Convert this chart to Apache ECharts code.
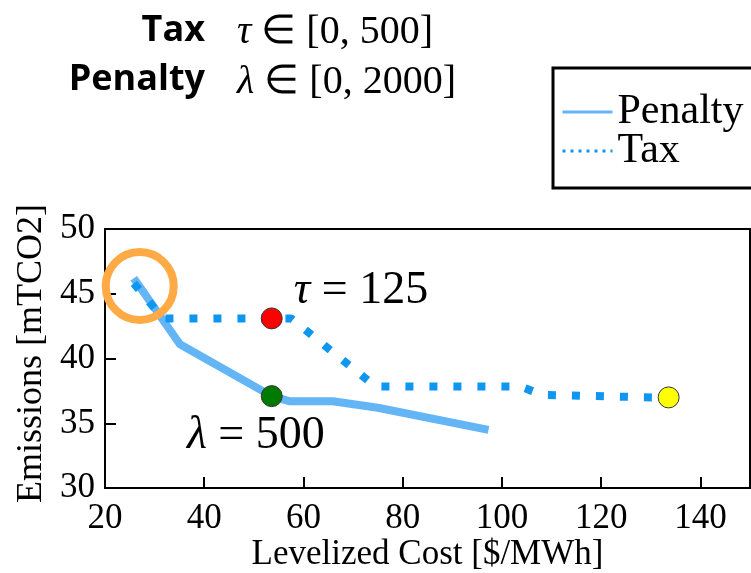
<!DOCTYPE html>
<html>
<head>
<meta charset="utf-8">
<script src="https://cdn.jsdelivr.net/npm/echarts@6/dist/echarts.min.js"></script>
<style>
  html, body { margin: 0; padding: 0; background: #fff; }
  #chart { width: 751px; height: 573px; }
</style>
</head>
<body>
<div id="chart"></div>
<script>
// levelized cost [$/MWh] vs emissions [mTCO2]
var penaltyCost = [25.8, 35.1, 53.6, 57.3, 65.9, 75, 97.3];
var penaltyEmis = [46.2, 41.1, 37.1, 36.7, 36.7, 36.2, 34.5];

var taxCost = [25.8, 31.7, 53.6, 57.5, 74.5, 103.6, 108.2, 130.3];
var taxEmis = [45.8, 43.1, 43.1, 43.1, 37.85, 37.85, 37.2, 37.0];

// highlighted points
var redPt = [53.6, 43.1];      // tau = 125
var greenPt = [53.6, 37.1];    // lambda = 500
var yellowPt = [133.6, 37.0];
var circlePt = [27.0, 45.6];

var notes = [
  { value: [71.6, 45.2], text: '{i|τ} = 125' },
  { value: [50.4, 34.0], text: '{i|λ} = 500' }
];

var xTicks = { min: 20, max: 150, step: 20 };
var yTicks = { min: 30, max: 50, step: 5 };

function zip(a, b) {
  return a.map(function (v, i) { return [v, b[i]]; });
}

var serif = 'Liberation Serif';
var myChart = echarts.init(document.getElementById('chart'));

var option = {
  animation: false,
  textStyle: { fontFamily: serif },
  grid: {
    left: 105, right: 1, top: 229, bottom: 84,
    show: true, borderColor: '#000', borderWidth: 2
  },
  legend: {
    orient: 'vertical',
    left: 553, top: 68,
    padding: [23, 12, 16, 8],
    borderColor: '#000', borderWidth: 3,
    itemWidth: 50, itemHeight: 14, itemGap: -3,
    itemStyle: { opacity: 0 },
    textStyle: { fontFamily: serif, fontSize: 42, color: '#000' },
    data: [
      { name: 'Penalty', lineStyle: { width: 3 } },
      { name: 'Tax', lineStyle: { width: 3, type: [3, 5] } }
    ]
  },
  xAxis: {
    type: 'value',
    min: xTicks.min, max: xTicks.max, interval: xTicks.step,
    name: 'Levelized Cost [$/MWh]',
    nameLocation: 'middle', nameGap: 48,
    nameTextStyle: { fontFamily: serif, fontSize: 35, color: '#000' },
    splitLine: { show: false },
    axisLine: { lineStyle: { color: '#000', width: 2 } },
    axisTick: { inside: true, length: 11, lineStyle: { color: '#000', width: 2 } },
    axisLabel: { fontFamily: serif, fontSize: 35, color: '#000', margin: 13, showMaxLabel: false }
  },
  yAxis: {
    type: 'value',
    min: yTicks.min, max: yTicks.max, interval: yTicks.step,
    name: 'Emissions [mTCO2]',
    nameLocation: 'middle', nameGap: 53, nameRotate: 90,
    nameTextStyle: { fontFamily: serif, fontSize: 36, color: '#000', padding: [0, 0, 0, 10] },
    splitLine: { show: false },
    axisLine: { lineStyle: { color: '#000', width: 2 } },
    axisTick: { inside: true, length: 11, lineStyle: { color: '#000', width: 2 } },
    axisLabel: { fontFamily: serif, fontSize: 35, color: '#000', margin: 10 }
  },
  series: [
    {
      name: 'Penalty', type: 'line', symbol: 'none', z: 2,
      color: '#64B5F6',
      lineStyle: { width: 8, color: '#64B5F6' },
      data: zip(penaltyCost, penaltyEmis)
    },
    {
      name: 'Tax', type: 'line', symbol: 'none', z: 3,
      color: '#0F96F0',
      lineStyle: { width: 8, color: '#0F96F0', type: [8, 16], cap: 'butt' },
      data: zip(taxCost, taxEmis)
    },
    {
      name: 'circle', type: 'scatter', z: 4,
      symbol: 'circle', symbolSize: 68,
      itemStyle: { color: 'rgba(0,0,0,0)', borderColor: '#FFAA45', borderWidth: 8, opacity: 1 },
      data: [circlePt]
    },
    {
      name: 'points', type: 'scatter', z: 5, symbolSize: 21,
      itemStyle: { borderColor: '#333', borderWidth: 1, opacity: 1 },
      data: [
        { value: redPt, itemStyle: { color: '#FF0000' } },
        { value: greenPt, itemStyle: { color: '#007A00' } },
        { value: yellowPt, itemStyle: { color: '#FFFF00' } }
      ]
    },
    {
      name: 'notes', type: 'scatter', z: 6, symbolSize: 0, silent: true,
      itemStyle: { opacity: 1 },
      label: {
        show: true, position: 'inside', opacity: 1,
        formatter: function (p) { return p.data.text; },
        fontFamily: serif, fontSize: 46, color: '#000',
        rich: { i: { fontFamily: serif, fontSize: 46, fontStyle: 'italic', color: '#000' } }
      },
      data: notes
    }
  ],
  graphic: [
    { type: 'text', right: 546, top: 13,
      style: { text: 'Tax', fontFamily: 'Open Sans', fontWeight: 'bold', fontSize: 36, fill: '#000' } },
    { type: 'text', right: 546, top: 62,
      style: { text: 'Penalty', fontFamily: 'Open Sans', fontWeight: 'bold', fontSize: 36, fill: '#000' } },
    { type: 'text', left: 237, top: 12,
      style: { text: '{i|τ} ∈ [0, 500]', fontFamily: serif, fontSize: 40, fill: '#000',
        rich: { i: { fontFamily: serif, fontSize: 40, fontStyle: 'italic', fill: '#000' } } } },
    { type: 'text', left: 237, top: 62,
      style: { text: '{i|λ} ∈ [0, 2000]', fontFamily: serif, fontSize: 40, fill: '#000',
        rich: { i: { fontFamily: serif, fontSize: 40, fontStyle: 'italic', fill: '#000' } } } }
  ]
};

myChart.setOption(option);
</script>
</body>
</html>
